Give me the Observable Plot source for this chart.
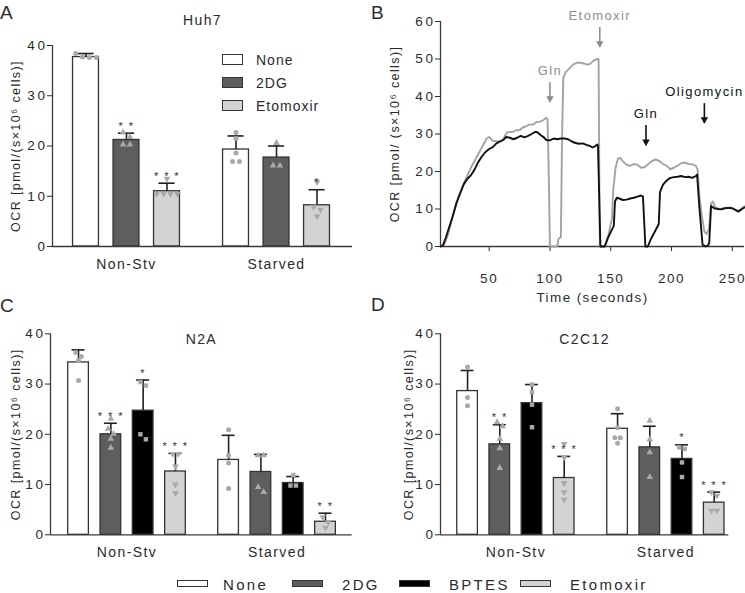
<!DOCTYPE html>
<html>
<head>
<meta charset="utf-8">
<script src="https://cdn.jsdelivr.net/npm/d3@7"></script>
<script src="https://cdn.jsdelivr.net/npm/@observablehq/plot@0.6"></script>
<style>
  body { margin: 0; background: #fff; }
  #fig { position: relative; width: 745px; height: 593px; overflow: hidden;
         font-family: "Liberation Sans", Arial, sans-serif; color: #2b2b2b; background: #fff; }
  #fig svg { position: absolute; overflow: visible; }
  #fig svg text { letter-spacing: 1.4px; }
  #fig svg g[aria-label="y-axis tick label"] text { letter-spacing: 2.6px; }
  #fig svg g[aria-label="x-axis tick label"] text { letter-spacing: 1.6px; }
  .plab { position: absolute; font-size: 19px; line-height: 1; }
  .lg { position: absolute; font-size: 14px; letter-spacing: 1px; line-height: 1; }
  .box { position: absolute; box-sizing: border-box; }
  .blg { position: absolute; font-size: 15px; letter-spacing: 2.3px; line-height: 1; }
</style>
</head>
<body>
<div id="fig"></div>
<script>
// ---------------- data ----------------
const groups = ["Non-Stv", "Starved"];
const treatA = ["None", "2DG", "Etomoxir"];
const treatCD = ["None", "2DG", "BPTES", "Etomoxir"];
const legendNames = ["None", "2DG", "BPTES", "Etomoxir"];
const yTitle = "OCR [pmol/(s×10⁶ cells)]";
const yTitleB = "OCR [pmol/ (s×10⁶ cells)]";

// A: Huh7 — order: Non-Stv (None, 2DG, Etomoxir), Starved (None, 2DG, Etomoxir)
const huh7Mean = [37.7, 21.2, 11.0, 19.3, 17.7, 8.2];
const huh7SD = [0.7, 1.35, 1.6, 2.7, 2.3, 3.1];
const huh7Points = [
  [37.6, 37.6, 37.7, 38.4],
  [22.7, 21.8, 20.3, 20.3],
  [13.5, 10.5, 10.5, 10.5, 10.5],
  [22.7, 21.5, 18.6, 16.9, 16.9],
  [20.6, 16.1, 16.1],
  [12.8, 7.9, 7.3, 6.0]
];
const huh7Stars = ["", "**", "***", "", "", "*"];

// C: N2A — order: Non-Stv (None, 2DG, BPTES, Etomoxir), Starved (...)
const n2aMean = [34.3, 20.0, 24.7, 12.6, 14.9, 12.5, 10.3, 2.6];
const n2aSD = [2.5, 2.2, 6.1, 3.6, 4.9, 3.5, 1.3, 1.7];
const n2aPoints = [
  [36.3, 35.5, 34.7, 30.7],
  [23.1, 21.1, 20.1, 19.1, 17.3],
  [30.4, 29.7, 20.0, 19.0],
  [16.1, 16.1, 13.6, 10.0, 8.3],
  [20.9, 15.8, 14.3, 9.2],
  [15.8, 15.8, 9.5, 8.5],
  [11.9, 9.8, 9.8],
  [3.5, 2.5, 1.4]
];
const n2aStars = ["", "***", "*", "***", "", "", "", "**"];

// D: C2C12
const c2c12Mean = [28.6, 18.0, 26.2, 11.3, 21.1, 17.4, 15.1, 6.4];
const c2c12SD = [4.1, 3.9, 3.7, 4.3, 3.0, 4.2, 2.8, 2.1];
const c2c12Points = [
  [33.4, 27.3, 25.7],
  [22.4, 21.6, 19.1, 17.2, 13.3],
  [29.9, 28.4, 25.9, 21.4],
  [18.1, 15.4, 10.3, 8.5, 7.0],
  [25.1, 21.3, 19.3, 19.3, 18.2],
  [22.7, 19.0, 16.4, 11.5],
  [17.4, 17.1, 14.4, 11.5],
  [8.5, 7.8, 4.8, 4.8]
];
const c2c12Stars = ["", "**", "", "***", "", "", "*", "***"];

// B: OCR traces, [time (s), OCR]
const traceGrey = [[10,0],[13,0.5],[16,3],[20,8],[25,13.5],[30,17.5],[35,21],[40,24],[45,27],[48,28.8],[50,29.2],[53,28.2],[57,28],[61,28.3],[63,29.5],[65,30.5],[70,30.6],[72,31],[75,31],[78,31.8],[80,32],[83,32.5],[86,32.5],[89,33.2],[92,33.3],[95,33.8],[97,34.3],[98,34],[99,20],[100,0],[106,0],[107,2],[109,2.5],[110,30],[111,45],[113,46.5],[116,47.5],[119,48.5],[122,49],[125,49],[128,48.8],[131,48.5],[133,48.7],[136,49.6],[139,50],[140,50],[141,0],[145,0],[148,3],[151,7.5],[152,15],[154,21],[156,23.5],[158,23.6],[160,22.7],[163,21.8],[166,21.5],[169,22],[172,21.8],[175,21],[178,21.2],[181,22],[184,22.8],[187,23.2],[190,22.8],[193,22],[196,21.5],[199,20.6],[202,21],[205,21.6],[208,22.2],[211,22.4],[214,22],[217,21.9],[220,21.5],[221.5,20.5],[223,13],[225,8],[227,4],[229,3.3],[231,5],[232.5,11.5],[234,12],[236,10.3],[240,10],[244,10.3],[248,10.4],[251,10],[254,9.4],[257,10],[260,10.7]];
const traceBlack = [[10,0],[12,0.3],[14,2],[17,5],[20,8],[23,11.5],[26,14],[29,16.5],[32,18],[35,19],[38,20.5],[41,22.5],[44,24],[47,25.2],[50,26],[53,26.5],[56,27.5],[59,28],[62,28.5],[64,29.2],[67,29],[70,28.6],[73,29],[76,29.5],[79,29.1],[82,29.5],[85,30],[88,30.6],[90,30.4],[92,29.8],[95,29.1],[97,28.4],[100,28.3],[103,28.8],[106,28.6],[109,28.8],[112,28.8],[115,28.6],[118,28],[121,27.6],[124,27.4],[127,27.5],[130,27.1],[133,26.8],[135,26.4],[137,26.7],[139,27.2],[139.5,27],[141.5,0],[145,0],[148,2.5],[151,4.5],[152.5,5.5],[153.5,12],[155,13],[157,12.8],[160,12.4],[163,12.5],[166,12.8],[169,13],[172,13.3],[175,13.6],[176.5,13.3],[178.5,0],[180.5,0],[183,2],[186,3.8],[189.5,6],[190.5,14.5],[193,16.5],[196,17.6],[199,18.3],[202,18.5],[205,18.6],[208,18.8],[211,18.5],[214,18.6],[217,18.3],[220,18.8],[221,19.2],[223,10],[225.5,0.5],[228,0],[230,0.3],[231,1],[232.5,10.8],[235,10.2],[238,10],[241,9.9],[244,10.2],[247,10.3],[250,10.2],[253,9.7],[255,9.3],[258,10],[260,10.4]];

// B: injection cues
const cueLabels = ["Gln", "Etomoxir", "Gln", "Oligomycin"];
const cueTime = [100, 141, 179, 227];
const cueTop = [43.7, 58.4, 32.3, 38.1];
const cueTip = [38.4, 53.1, 26.9, 32.8];
const cueTrace = ["grey", "grey", "black", "black"];

// ---------------- styles ----------------
const fillOf = {None: "#ffffff", "2DG": "#5e5e5e", BPTES: "#000000", Etomoxir: "#d3d3d3"};
const symbolOf = {None: "circle", "2DG": "triangle", BPTES: "square", Etomoxir: "triangle"};
const baseStyle = {fontFamily: "'Liberation Sans', Arial, sans-serif", fontSize: "13.5px", color: "#2b2b2b", background: "none", overflow: "visible"};
const fig = document.getElementById("fig");

function spread(vals, tol, step) {
  const order = vals.map((v, i) => i).sort((a, b) => vals[b] - vals[a]);
  const offs = new Array(vals.length).fill(0);
  let cluster = [];
  const flush = () => { cluster.forEach((idx, j) => offs[idx] = (j - (cluster.length - 1) / 2) * step); cluster = []; };
  order.forEach(i => {
    if (cluster.length && vals[cluster[0]] - vals[i] > tol) flush();
    cluster.push(i);
  });
  flush();
  return offs;
}

function place(svg, left, top) {
  svg.style.left = left + "px";
  svg.style.top = top + "px";
  fig.appendChild(svg);
}

function barPanel(o) {
  const n = o.treat.length;
  const rows = o.mean.map((m, k) => {
    const gi = Math.floor(k / n), ti = k % n;
    return {group: groups[gi], treatment: o.treat[ti], pos: gi * o.G + ti, mean: m, top: m + o.sd[k], star: o.stars[k]};
  });
  const pts = [];
  o.points.forEach((vals, k) => {
    const offs = spread(vals, 1.0, 0.17);
    vals.forEach((v, j) => pts.push({treatment: rows[k].treatment, x: rows[k].pos + offs[j], y: v}));
  });
  const centers = groups.map((g, gi) => ({group: g, x: gi * o.G + (n - 1) / 2}));
  const dotMarks = o.treat.map(t => Plot.dot(pts.filter(p => p.treatment === t), {
    x: "x", y: "y", r: 2.5, symbol: symbolOf[t], rotate: t === "Etomoxir" ? 180 : 0, fill: "#a9a9a9"
  }));
  return Plot.plot({
    width: o.width, height: o.height,
    marginLeft: o.ml, marginRight: o.mr, marginTop: o.mt, marginBottom: o.mb,
    style: baseStyle,
    x: {domain: o.xDomain, axis: null},
    y: {domain: [0, 40], ticks: 4, tickSize: 5, tickPadding: 0, label: null},
    color: {domain: legendNames, range: legendNames.map(t => fillOf[t])},
    marks: [
      Plot.rectY(rows, {x1: d => d.pos - 0.32, x2: d => d.pos + 0.32, y1: 0, y2: "mean", fill: "treatment", stroke: "#333", strokeWidth: 1.3}),
      Plot.ruleX(rows, {x: "pos", y1: "mean", y2: "top", stroke: "#222", strokeWidth: 1.6}),
      Plot.ruleY(rows, {y: "top", x1: d => d.pos - 0.2, x2: d => d.pos + 0.2, stroke: "#222", strokeWidth: 1.6}),
      ...dotMarks,
      Plot.text(rows.filter(d => d.star), {x: "pos", y: "top", text: d => d.star.split("").join(" "), dy: -7, fontSize: 11, fill: "#333"}),
      Plot.ruleY([0], {stroke: "#3a3a3a", strokeWidth: 1.3}),
      Plot.ruleX([o.xDomain[0]], {stroke: "#3a3a3a", strokeWidth: 1.3}),
      Plot.text(centers, {x: "x", y: 0, dy: 18, text: "group", fontSize: 14}),
      Plot.text([o.title], {frameAnchor: "top", dy: o.titleDy, text: d => d, fontSize: 14}),
      Plot.text([yTitle], {frameAnchor: "left", textAnchor: "middle", dx: o.ylabDx, rotate: -90, text: d => d, fontSize: 12.5})
    ]
  });
}

// Panel A
place(barPanel({
  treat: treatA, mean: huh7Mean, sd: huh7SD, points: huh7Points, stars: huh7Stars,
  G: 3.704, xDomain: [-0.827, 6.58], width: 365, height: 290, ml: 52, mr: 13, mt: 45, mb: 44,
  title: "Huh7", titleDy: -30, ylabDx: -37
}), 0, 0);

// Panel C
place(barPanel({
  treat: treatCD, mean: n2aMean, sd: n2aSD, points: n2aPoints, stars: n2aStars,
  G: 4.644, xDomain: [-0.868, 8.47], width: 365, height: 275, ml: 50, mr: 13.3, mt: 43.3, mb: 30.7,
  title: "N2A", titleDy: 0, ylabDx: -35
}), 0, 290);

// Panel D
place(barPanel({
  treat: treatCD, mean: c2c12Mean, sd: c2c12SD, points: c2c12Points, stars: c2c12Stars,
  G: 4.657, xDomain: [-0.84, 8.11], width: 375, height: 275, ml: 70, mr: 16.7, mt: 43.3, mb: 30.7,
  title: "C2C12", titleDy: 0, ylabDx: -32
}), 370, 290);

// Panel B
const cues = cueLabels.map((l, i) => ({label: l, t: cueTime[i], top: cueTop[i], tip: cueTip[i], trace: cueTrace[i]}));
const cueColor = d => d.trace === "grey" ? "#8e8e8e" : "#111";
place(Plot.plot({
  width: 375, height: 310, marginLeft: 70, marginRight: 1, marginTop: 21, marginBottom: 64,
  style: baseStyle,
  x: {domain: [10, 260], ticks: 5, tickSize: 5, tickPadding: 22, label: null},
  y: {domain: [0, 60], ticks: 6, tickSize: 5, tickPadding: 0, label: null},
  marks: [
    Plot.ruleY([0], {stroke: "#3a3a3a", strokeWidth: 1.3}),
    Plot.ruleX([10], {stroke: "#3a3a3a", strokeWidth: 1.3}),
    Plot.line(traceGrey, {x: d => d[0], y: d => d[1], stroke: "#a3a3a3", strokeWidth: 1.9}),
    Plot.line(traceBlack, {x: d => d[0], y: d => d[1], stroke: "#111", strokeWidth: 1.9}),
    Plot.ruleX(cues, {x: "t", y1: "top", y2: "tip", stroke: cueColor, strokeWidth: 1.6}),
    Plot.dot(cues, {x: "t", y: "tip", symbol: "triangle", rotate: 180, r: 2.8, fill: cueColor, dy: -4}),
    Plot.text(cues, {x: "t", y: "top", dy: -12, text: "label", fill: cueColor, fontSize: 13}),
    Plot.text(["Time (seconds)"], {frameAnchor: "bottom", dy: 55, text: d => d, fontSize: 13.5}),
    Plot.text([yTitleB], {frameAnchor: "left", textAnchor: "middle", dx: -46, rotate: -90, text: d => d, fontSize: 12.5})
  ]
}), 370, 0);

// Panel letters
[["A", 0, 3], ["B", 371, 3], ["C", 0, 296], ["D", 371, 295]].forEach(([t, x, y]) => {
  const d = document.createElement("div");
  d.className = "plab"; d.textContent = t; d.style.left = x + "px"; d.style.top = y + "px";
  fig.appendChild(d);
});

// Legend inside panel A
treatA.forEach((t, i) => {
  const b = document.createElement("div");
  b.className = "box";
  Object.assign(b.style, {left: "222px", top: (54 + i * 23) + "px", width: "21px", height: "11px",
    background: fillOf[t], border: "1.3px solid #333"});
  fig.appendChild(b);
  const s = document.createElement("div");
  s.className = "lg"; s.textContent = t;
  Object.assign(s.style, {left: "256px", top: (53 + i * 23) + "px"});
  fig.appendChild(s);
});

// Bottom legend
const boxLeft = [177, 292, 399, 520];
const textLeft = [223, 342, 449, 570];
legendNames.forEach((t, i) => {
  const b = document.createElement("div");
  b.className = "box";
  Object.assign(b.style, {left: boxLeft[i] + "px", top: "580px", width: "31px", height: "7px",
    background: fillOf[t], border: "1.3px solid #333"});
  fig.appendChild(b);
  const s = document.createElement("div");
  s.className = "blg"; s.textContent = t;
  Object.assign(s.style, {left: textLeft[i] + "px", top: "577px"});
  fig.appendChild(s);
});
</script>
</body>
</html>
